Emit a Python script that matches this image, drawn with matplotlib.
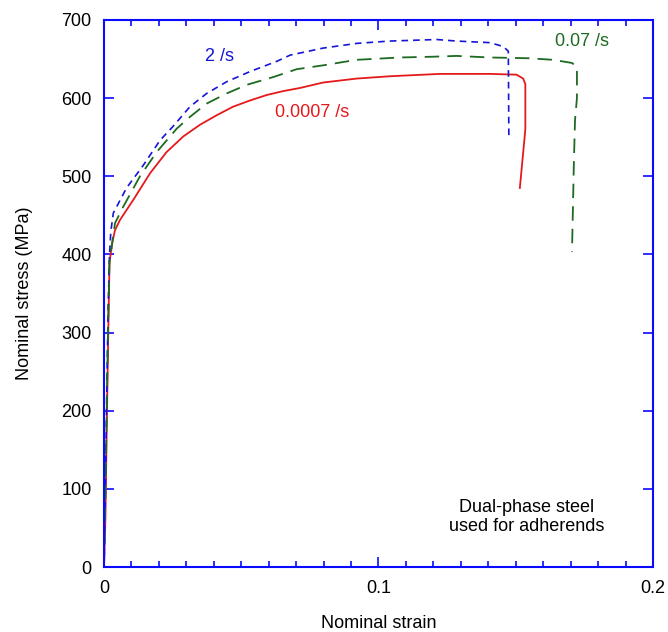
import matplotlib
matplotlib.use("Agg")
import matplotlib.pyplot as plt
from matplotlib.ticker import MultipleLocator

plt.rcParams["font.family"] = ["Liberation Sans", "DejaVu Sans"]

# stress-strain curves at three strain rates
strain_slow = [0, 0.0005, 0.001, 0.0015, 0.002, 0.003, 0.004, 0.0058, 0.0107, 0.0168,
               0.0228, 0.0289, 0.035, 0.041, 0.047, 0.0532, 0.0593, 0.0653, 0.0714,
               0.0799, 0.092, 0.1042, 0.1224, 0.1406, 0.1503, 0.1527, 0.1535, 0.1535,
               0.1515]
stress_slow = [0, 60, 180, 290, 390, 415, 431, 444, 470, 504,
               531, 551, 566, 578, 589, 597, 604, 609, 613,
               620, 625, 628, 631, 631, 630, 625, 618, 560,
               485]

strain_fast = [0, 0.0005, 0.001, 0.0015, 0.002, 0.0025, 0.0034, 0.0082, 0.0143, 0.0204,
               0.0252, 0.0313, 0.0374, 0.0447, 0.0532, 0.0629, 0.0678, 0.0798, 0.092,
               0.104, 0.1212, 0.1285, 0.1406, 0.1455, 0.1473, 0.1475]
stress_fast = [0, 100, 220, 330, 400, 430, 453, 485, 514, 546,
               564, 589, 606, 621, 634, 647, 655, 664, 670,
               673, 675, 673, 671, 666, 660, 549]

strain_mid = [0, 0.0005, 0.001, 0.0015, 0.002, 0.004, 0.007, 0.0131, 0.0192, 0.0265,
              0.0313, 0.0374, 0.0447, 0.052, 0.0617, 0.0702, 0.0799, 0.092, 0.1078,
              0.12, 0.1285, 0.1406, 0.155, 0.1636, 0.1705, 0.1723, 0.1723, 0.1716,
              0.1712, 0.1705]
stress_mid = [0, 90, 200, 310, 390, 440, 461, 500, 531, 561,
              576, 593, 606, 617, 627, 637, 642, 649, 652,
              653, 654, 652, 651, 649, 645, 640, 600, 572,
              520, 403]

axis_blue = "#0a0aff"
red = "#e5191c"
blue = "#1515d8"
green = "#1d6b22"
fs = 13

fig = plt.figure(figsize=(6.68, 6.32), dpi=100)
ax = fig.add_axes([0.1557, 0.1028, 0.8218, 0.8656])

ax.plot(strain_slow, stress_slow, color=red, lw=1.3, solid_joinstyle="round")
ax.plot(strain_fast, stress_fast, color=blue, lw=1.2, dashes=(4, 3))
ax.plot(strain_mid, stress_mid, color=green, lw=1.3, dashes=(8, 4.5))

ax.set_xlim(0, 0.2)
ax.set_ylim(0, 700)
ax.xaxis.set_minor_locator(MultipleLocator(0.01))
ax.yaxis.set_major_locator(MultipleLocator(100))
ax.set_xticks([0, 0.1, 0.2], ["0", "0.1", "0.2"])

for side in ax.spines.values():
    side.set_color(axis_blue)
    side.set_linewidth(1.5)
ax.tick_params(which="both", direction="in", top=True, right=True,
               color=axis_blue, labelsize=fs, width=1.2)
ax.tick_params(which="major", length=7, pad=9)
ax.tick_params(which="minor", length=4.5)

ax.set_xlabel("Nominal strain", fontsize=fs, labelpad=13)
ax.set_ylabel("Nominal stress (MPa)", fontsize=fs, labelpad=20)

ax.text(0.042, 653, "2 /s", color=blue, fontsize=fs, ha="center", va="center")
ax.text(0.076, 582, "0.0007 /s", color=red, fontsize=fs, ha="center", va="center")
ax.text(0.174, 672, "0.07 /s", color=green, fontsize=fs, ha="center", va="center")
ax.text(0.154, 64, "Dual-phase steel\nused for adherends", fontsize=fs,
        ha="center", va="center", linespacing=1.15)

fig.savefig("out.png", dpi=100)
